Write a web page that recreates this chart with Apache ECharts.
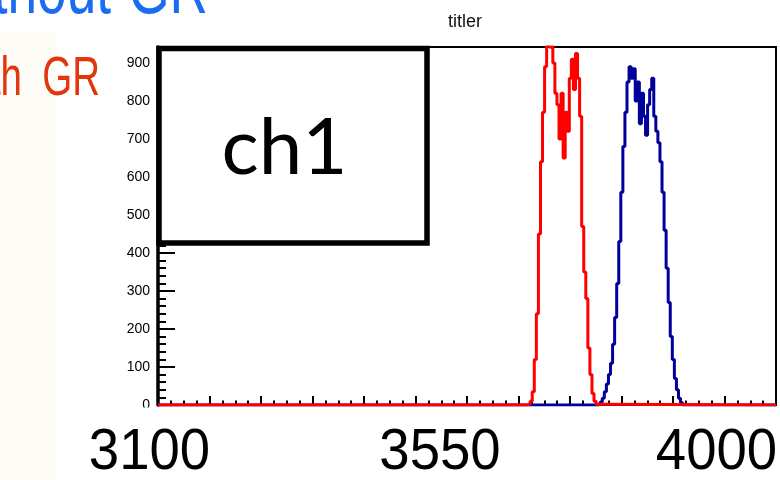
<!DOCTYPE html>
<html><head><meta charset="utf-8">
<script src="https://cdn.jsdelivr.net/npm/echarts@6/dist/echarts.min.js"></script>
<style>html,body{margin:0;padding:0;background:#fff}#c{width:780px;height:480px}</style>
</head><body><div id="c"></div>
<script>
// ---- data ----
const xMin = 3100, xMax = 4000;
const binWidth = 3;
const xMajorTicks = [3100,3175,3250,3325,3400,3475,3550,3625,3700,3775,3850,3925,4000];
const yMin = 0, yMax = 942, yInterval = 100;
const redStart = 3636;
const redCounts = [0,3,10,35,120,240,450,640,770,890,945,940,945,900,820,790,700,820,650,770,720,860,910,830,925,860,760,470,350,280,150,80,30,10,2];
const blueStart = 3738;
const blueCounts = [0,2,8,18,35,55,80,110,160,230,320,430,560,680,770,850,890,860,885,800,850,740,820,760,710,790,830,860,760,720,690,640,560,460,360,270,180,120,70,40,18,6];
const titleText = 'titler';
const boxLabel = 'ch1';
const bottomLabels = ['3100','3550','4000'];
const legendWords = [['without', 'GR'], ['with', 'GR']];

// ---- build ----
function histPoints(start, counts) {
  const pts = [[xMin, 0]];
  counts.forEach((c, i) => pts.push([start + i * binWidth, c]));
  pts.push([start + counts.length * binWidth, 0]);
  pts.push([xMax, 0]);
  return pts;
}
const xMinorTicks = [];
for (let i = 0; i < xMajorTicks.length - 1; i++) {
  const a = xMajorTicks[i], b = xMajorTicks[i + 1];
  for (let k = 1; k < 4; k++) xMinorTicks.push(a + (b - a) * k / 4);
}

const chart = echarts.init(document.getElementById('c'), null, {renderer: 'canvas'});
const helv = 'Liberation Sans, Helvetica, Arial, sans-serif';
function word(text, x, y, size, color) {
  return {type: 'text', z: 96, x: x, y: y, scaleX: 0.7,
    style: {text: text, font: size + 'px ' + helv, fill: color, align: 'right', verticalAlign: 'middle'}};
}
chart.setOption({
  animation: false,
  backgroundColor: '#ffffff',
  grid: {left: 158, right: 4, top: 47, bottom: 75, containLabel: false, outerBoundsMode: 'none',
    show: true, borderColor: '#000', borderWidth: 2, backgroundColor: 'transparent'},
  xAxis: [{
    type: 'value', min: xMin, max: xMax, position: 'bottom',
    axisLine: {show: true, lineStyle: {color: '#000', width: 2}},
    axisTick: {show: true, inside: true, length: 9, customValues: xMajorTicks, lineStyle: {color: '#000', width: 2}},
    axisLabel: {show: true, customValues: xMajorTicks, fontSize: 9, margin: 3, color: '#444', fontFamily: helv},
    splitLine: {show: false}
  }, {
    type: 'value', min: xMin, max: xMax, position: 'bottom',
    axisLine: {show: false},
    axisTick: {show: true, inside: true, length: 4.5, customValues: xMinorTicks, lineStyle: {color: '#000', width: 2}},
    axisLabel: {show: false},
    splitLine: {show: false}
  }],
  yAxis: {
    type: 'value', min: yMin, max: yMax, interval: yInterval,
    axisLine: {show: true, lineStyle: {color: '#000', width: 3.5}},
    axisTick: {show: true, inside: true, length: 17, lineStyle: {color: '#000', width: 2}},
    minorTick: {show: true, splitNumber: 5, length: 8, lineStyle: {color: '#000', width: 2}},
    axisLabel: {fontSize: 14, color: '#000', margin: 8, fontFamily: helv, showMaxLabel: false},
    splitLine: {show: false}
  },
  series: [{
    type: 'line', step: 'end', data: histPoints(blueStart, blueCounts), showSymbol: false,
    lineStyle: {color: '#00009a', width: 3}, clip: true, z: 3
  }, {
    type: 'line', step: 'end', data: histPoints(redStart, redCounts), showSymbol: false,
    lineStyle: {color: '#ff0000', width: 3}, clip: true, z: 4
  }],
  graphic: [
    {type: 'rect', z: 90, shape: {x: 0, y: 32, width: 57, height: 448}, style: {fill: '#fdfcf7'}},
    {type: 'rect', z: 90, shape: {x: 60, y: 407.5, width: 720, height: 73}, style: {fill: '#ffffff'}},
    {type: 'rect', z: 95, shape: {x: 159, y: 48.5, width: 268, height: 194.5},
      style: {fill: '#fff', stroke: '#000', lineWidth: 5.5}},
    {type: 'text', z: 96, x: 284.5, y: 149, style: {text: boxLabel, font: '78px Lato, sans-serif', fill: '#000', align: 'center', verticalAlign: 'middle'}},
    {type: 'text', z: 96, x: 465, y: 22, style: {text: titleText, font: '18px ' + helv, fill: '#111', align: 'center', verticalAlign: 'middle'}},
    word(legendWords[0][0], 111, -8, 76, '#1a6cf2'),
    word(legendWords[0][1], 208, -8, 76, '#1a6cf2'),
    word(legendWords[1][0], 22, 80, 55, '#e2360f'),
    word(legendWords[1][1], 100, 80, 55, '#e2360f'),
    {type: 'text', z: 96, x: 149.5, y: 453, scaleX: 0.94, style: {text: bottomLabels[0], font: '58px ' + helv, fill: '#000', align: 'center', verticalAlign: 'middle'}},
    {type: 'text', z: 96, x: 440, y: 453, scaleX: 0.94, style: {text: bottomLabels[1], font: '58px ' + helv, fill: '#000', align: 'center', verticalAlign: 'middle'}},
    {type: 'text', z: 96, x: 716.5, y: 453, scaleX: 0.94, style: {text: bottomLabels[2], font: '58px ' + helv, fill: '#000', align: 'center', verticalAlign: 'middle'}}
  ]
});
</script>
</body></html>
